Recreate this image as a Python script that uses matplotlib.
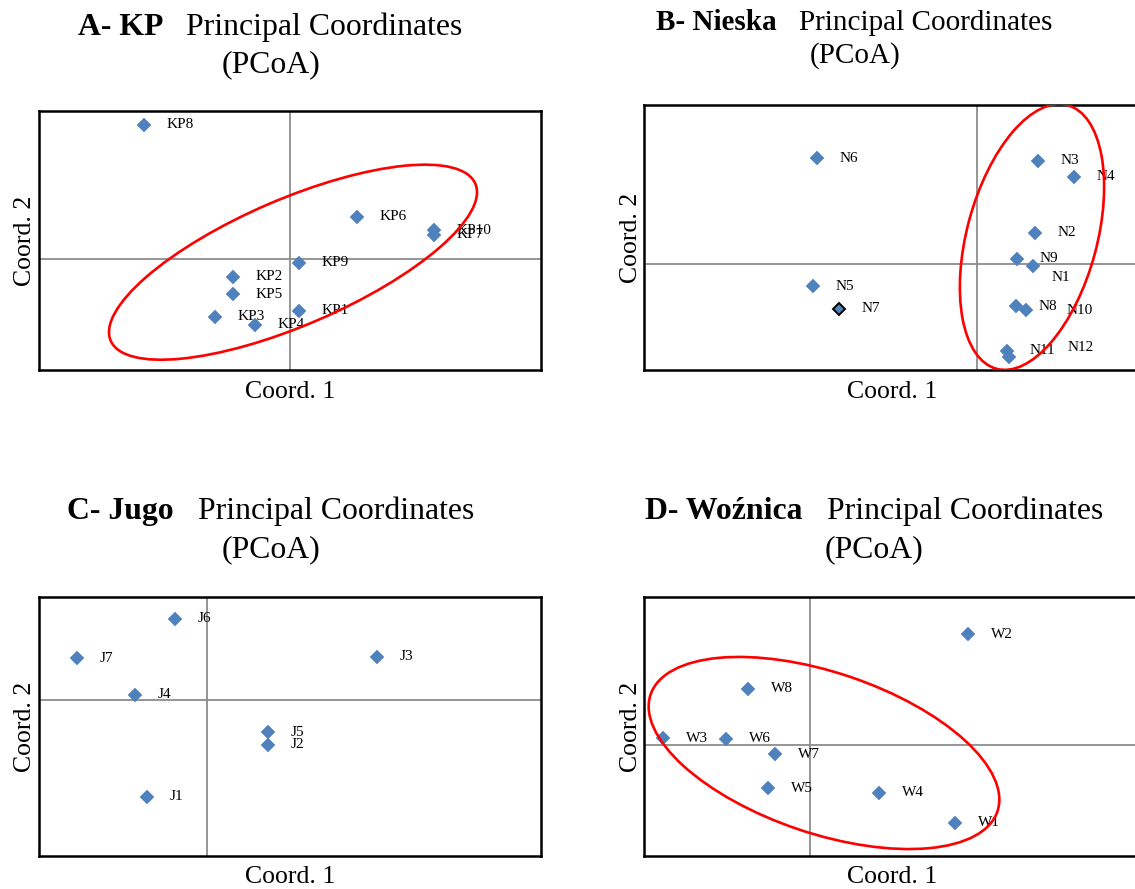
import matplotlib
matplotlib.use('Agg')
import matplotlib.pyplot as plt
from matplotlib.patches import Ellipse

plt.rcParams['font.family'] = ['Liberation Serif', 'DejaVu Serif']

W, H = 1135, 889

# A - KP
kp_names = ['KP1', 'KP2', 'KP3', 'KP4', 'KP5', 'KP6', 'KP7', 'KP8', 'KP9', 'KP10']
kp_c1 = [0.085, -0.575, -0.754, -0.353, -0.575, 0.67, 1.44, -1.46, 0.085, 1.44]
kp_c2 = [-0.523, -0.183, -0.583, -0.663, -0.353, 0.417, 0.237, 1.337, -0.043, 0.287]

# B - Nieska
n_names = ['N1', 'N2', 'N3', 'N4', 'N5', 'N6', 'N7', 'N8', 'N9', 'N10', 'N11', 'N12']
n_c1 = [0.56, 0.58, 0.61, 0.97, -1.64, -1.60, -1.385, 0.39, 0.40, 0.49, 0.30, 0.32]
n_c2 = [-0.02, 0.31, 1.03, 0.87, -0.22, 1.06, -0.45, -0.42, 0.05, -0.46, -0.87, -0.93]

# C - Jugo
j_names = ['J1', 'J2', 'J3', 'J4', 'J5', 'J6', 'J7']
j_c1 = [-0.60, 0.61, 1.70, -0.72, 0.61, -0.32, -1.30]
j_c2 = [-0.97, -0.45, 0.43, 0.05, -0.32, 0.81, 0.42]

# D - Woźnica
w_names = ['W1', 'W2', 'W3', 'W4', 'W5', 'W6', 'W7', 'W8']
w_c1 = [1.45, 1.58, -1.47, 0.69, -0.42, -0.84, -0.35, -0.62]
w_c2 = [-0.78, 1.11, 0.07, -0.48, -0.43, 0.06, -0.09, 0.56]

# group ellipses: (centre x, centre y, width, height, angle)
kp_group = (0.03, -0.035, 3.97, 1.26, 23.3)
n_group = (0.55, 0.27, 2.73, 1.30, 74.9)
w_group = (0.14, -0.08, 3.66, 1.61, -18.6)

BLUE = '#4F81BD'


def box(l, t, r, b):
    return [l / W, 1 - b / H, (r - l) / W, (b - t) / H]


def panel(rect, names, c1, c2, xlim, ylim, group=None, shifts=None,
          outlined=(), ylab_x=-0.016, xlab_y=-0.108):
    shifts = shifts or {}
    ax = fig.add_axes(rect)
    ax.set_xlim(xlim)
    ax.set_ylim(ylim)
    ax.axhline(0, color='#8c8c8c', lw=1.3, zorder=1)
    ax.axvline(0, color='#8c8c8c', lw=1.3, zorder=1)
    for name, x, y in zip(names, c1, c2):
        if name in outlined:
            ax.plot(x, y, 'D', ms=6.6, mfc=BLUE, mec='black', mew=1.4, zorder=3)
        else:
            ax.plot(x, y, 'D', ms=7.2, mfc=BLUE, mec=BLUE, mew=0.3, zorder=3)
        dx, dy = shifts.get(name, (16.5, 0))
        ax.annotate(name, (x, y), xytext=(dx, dy), textcoords='offset points',
                    va='center', ha='left', fontsize=11, zorder=4)
    if group is not None:
        cx, cy, w, h, ang = group
        ax.add_patch(Ellipse((cx, cy), w, h, angle=ang, fill=False,
                             edgecolor='#ff0000', lw=1.9, zorder=5))
    ax.set_xticks([])
    ax.set_yticks([])
    for s in ax.spines.values():
        s.set_linewidth(1.8)
        s.set_color('black')
    ax.set_xlabel('Coord. 1', fontsize=18.5)
    ax.set_ylabel('Coord. 2', fontsize=18.5)
    ax.xaxis.label.set_va('baseline')
    ax.yaxis.label.set_va('baseline')
    ax.xaxis.set_label_coords(0.5, xlab_y)
    ax.yaxis.set_label_coords(ylab_x, 0.5)
    return ax


def title(bold, bold_x, normal_x, centre_x, base1, base2, size):
    fig.text(bold_x / W, 1 - base1 / H, bold, fontsize=size, fontweight='bold',
             ha='left', va='baseline')
    fig.text(normal_x / W, 1 - base1 / H, 'Principal Coordinates', fontsize=size,
             ha='left', va='baseline')
    fig.text(centre_x / W, 1 - base2 / H, '(PCoA)', fontsize=size,
             ha='center', va='baseline')


fig = plt.figure(figsize=(W / 100, H / 100), dpi=100)

panel(box(39.4, 111, 541, 370), kp_names, kp_c1, kp_c2,
      (-2.506, 2.51), (-1.113, 1.477), group=kp_group)
panel(box(644, 105, 1141, 370), n_names, n_c1, n_c2,
      (-3.33, 1.64), (-1.06, 1.59), group=n_group,
      shifts={'N1': (13, -8), 'N10': (29.5, 0), 'N12': (42, 7)},
      outlined=('N7',), ylab_x=-0.0147, xlab_y=-0.106)
panel(box(39.4, 597, 541, 856), j_names, j_c1, j_c2,
      (-1.676, 3.34), (-1.56, 1.03), ylab_x=-0.0167, xlab_y=-0.104)
panel(box(644, 597, 1141, 856), w_names, w_c1, w_c2,
      (-1.66, 3.31), (-1.11, 1.48), group=w_group,
      ylab_x=-0.014, xlab_y=-0.104)

title('A- KP', 78.5, 186, 271, 35, 72, 22.9)
title('B- Nieska', 656.5, 799, 855, 30, 63, 21)
title('C- Jugo', 67, 198, 271, 519, 557, 22.9)
title('D- Woźnica', 645, 826.6, 874, 519, 557, 22.9)

fig.savefig('out.png', dpi=100)
